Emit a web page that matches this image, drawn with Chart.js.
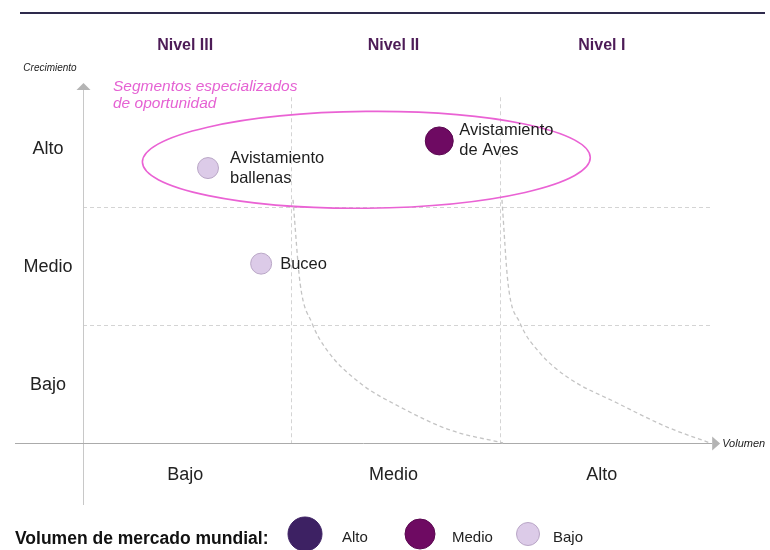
<!DOCTYPE html>
<html><head><meta charset="utf-8">
<script src="https://cdn.jsdelivr.net/npm/chart.js@4.4.1/dist/chart.umd.min.js"></script>
<style>html,body{margin:0;padding:0;background:#fff;}canvas{display:block;}</style>
</head><body>
<canvas id="c" width="770" height="550"></canvas>
<script>
// ---- data ----
const volumeCategories = ['Bajo', 'Medio', 'Alto'];
const growthCategories = ['Bajo', 'Medio', 'Alto'];
const levelLabels = ['Nivel III', 'Nivel II', 'Nivel I'];
const segmentNames = [['Avistamiento', 'ballenas'], ['Avistamiento', 'de Aves'], ['Buceo']];
const segmentVolume = [0.60, 1.71, 0.855];
const segmentGrowth = [2.33, 2.56, 1.52];
const segmentMarket = ['Bajo', 'Medio', 'Bajo'];
const marketLevels = ['Alto', 'Medio', 'Bajo'];
const curve1X = [1.008, 1.042, 1.099, 1.171, 1.33, 1.522, 1.762, 2.016];
const curve1Y = [2.06, 1.355, 1.016, 0.787, 0.508, 0.305, 0.11, 0];
const curve2X = [2.011, 2.04, 2.098, 2.194, 2.324, 2.564, 2.804, 3.01];
const curve2Y = [2.06, 1.355, 1.016, 0.762, 0.559, 0.339, 0.135, 0];
const opportunityTitle = ['Segmentos especializados', 'de oportunidad'];
const opportunityCenter = [1.36, 2.40];
const opportunityRadii = [1.075, 0.41];
const legendTitle = 'Volumen de mercado mundial:';
const axisTitles = ['Volumen', 'Crecimiento'];

// ---- styles ----
const marketColor = { 'Alto': '#3d2163', 'Medio': '#6e0a62', 'Bajo': '#dccbe8' };
const marketBorder = { 'Alto': '#3d2163', 'Medio': '#5a0850', 'Bajo': '#b9a6c6' };
const marketRadius = { 'Alto': 17, 'Medio': 14, 'Bajo': 10.5 };
const FONT = "'Liberation Sans', Arial, sans-serif";

const toPts = (xs, ys) => xs.map((x, i) => ({ x, y: ys[i] }));

const decor = {
  id: 'decor',
  beforeDatasetsDraw(chart) {
    const { ctx, scales: { x, y } } = chart;
    ctx.save();
    // dashed grid
    ctx.strokeStyle = '#d4d4d4';
    ctx.lineWidth = 1;
    ctx.setLineDash([4, 3]);
    [1, 2].forEach(v => {
      ctx.beginPath();
      ctx.moveTo(x.getPixelForValue(0), Math.round(y.getPixelForValue(v)) + 0.5);
      ctx.lineTo(x.getPixelForValue(3.02), Math.round(y.getPixelForValue(v)) + 0.5);
      ctx.stroke();
      ctx.beginPath();
      ctx.moveTo(Math.round(x.getPixelForValue(v)) + 0.5, y.getPixelForValue(2.93));
      ctx.lineTo(Math.round(x.getPixelForValue(v)) + 0.5, y.getPixelForValue(0));
      ctx.stroke();
    });
    ctx.setLineDash([]);
    // y axis
    const x0 = Math.round(x.getPixelForValue(0)) + 0.5;
    const y0 = Math.round(y.getPixelForValue(0)) + 0.5;
    ctx.strokeStyle = '#c8c8c8';
    ctx.beginPath();
    ctx.moveTo(x0, y.getPixelForValue(3.0));
    ctx.lineTo(x0, 505);
    ctx.stroke();
    ctx.fillStyle = '#b4b4b4';
    const yt = y.getPixelForValue(3.0);
    ctx.beginPath();
    ctx.moveTo(x0, yt - 6); ctx.lineTo(x0 + 7, yt + 1); ctx.lineTo(x0 - 7, yt + 1); ctx.closePath(); ctx.fill();
    // x axis
    ctx.strokeStyle = '#ababab';
    const xe = x.getPixelForValue(3.02);
    ctx.beginPath();
    ctx.moveTo(15, y0);
    ctx.lineTo(xe, y0);
    ctx.stroke();
    ctx.beginPath();
    ctx.moveTo(xe + 8, y0); ctx.lineTo(xe, y0 - 7); ctx.lineTo(xe, y0 + 7); ctx.closePath(); ctx.fill();
    // opportunity ellipse
    const cx = x.getPixelForValue(opportunityCenter[0]);
    const cy = y.getPixelForValue(opportunityCenter[1]);
    const rx = x.getPixelForValue(opportunityCenter[0] + opportunityRadii[0]) - cx;
    const ry = cy - y.getPixelForValue(opportunityCenter[1] + opportunityRadii[1]);
    ctx.strokeStyle = '#ea62d4';
    ctx.lineWidth = 1.6;
    ctx.beginPath();
    ctx.ellipse(cx, cy, rx, ry, -0.01, 0, Math.PI * 2);
    ctx.stroke();
    ctx.restore();
  },
  afterDraw(chart) {
    const { ctx, scales: { x, y } } = chart;
    ctx.save();
    // top rule
    ctx.strokeStyle = '#2e2a4c';
    ctx.lineWidth = 2;
    ctx.beginPath(); ctx.moveTo(20, 13); ctx.lineTo(765, 13); ctx.stroke();
    // level labels
    ctx.fillStyle = '#4d1c57';
    ctx.font = 'bold 16px ' + FONT;
    ctx.textAlign = 'center';
    ctx.textBaseline = 'middle';
    levelLabels.forEach((t, i) => ctx.fillText(t, x.getPixelForValue(i + 0.5) - 2, 46));
    // category labels
    ctx.fillStyle = '#222';
    ctx.font = '18px ' + FONT;
    volumeCategories.forEach((t, i) => ctx.fillText(t, x.getPixelForValue(i + 0.5) - 2, 475));
    growthCategories.forEach((t, i) => ctx.fillText(t, 48, y.getPixelForValue(i + 0.5) + 1));
    // axis titles
    ctx.font = 'italic 11px ' + FONT;
    ctx.textAlign = 'left';
    ctx.fillText(axisTitles[0], x.getPixelForValue(3.02) + 10, y.getPixelForValue(0) + 1);
    ctx.font = 'italic 10px ' + FONT;
    ctx.textAlign = 'center';
    ctx.fillText(axisTitles[1], 50, 68);
    // opportunity title
    ctx.fillStyle = '#e562d3';
    ctx.font = 'italic 15.5px ' + FONT;
    ctx.textAlign = 'left';
    opportunityTitle.forEach((t, i) => ctx.fillText(t, 113, 87 + i * 17));
    // segment labels
    ctx.fillStyle = '#1e1e1e';
    ctx.font = '16.5px ' + FONT;
    const offs = [[22, -10], [20, -10], [19, 1]];
    segmentNames.forEach((lines, i) => {
      const px = x.getPixelForValue(segmentVolume[i]);
      const py = y.getPixelForValue(segmentGrowth[i]);
      lines.forEach((t, j) => ctx.fillText(t, px + offs[i][0], py + offs[i][1] + j * 20));
    });
    // legend
    ctx.fillStyle = '#111';
    ctx.font = 'bold 17.5px ' + FONT;
    ctx.fillText(legendTitle, 15, 539);
    const lx = [305, 420, 528];
    const tx = [342, 452, 553];
    marketLevels.forEach((m, i) => {
      ctx.beginPath();
      ctx.arc(lx[i], 534, marketRadius[m] + (m === 'Alto' ? 0 : 1), 0, Math.PI * 2);
      ctx.fillStyle = marketColor[m];
      ctx.fill();
      ctx.lineWidth = 1;
      ctx.strokeStyle = marketBorder[m];
      ctx.stroke();
      ctx.fillStyle = '#222';
      ctx.font = '15px ' + FONT;
      ctx.fillText(m, tx[i], 538);
    });
    ctx.restore();
  }
};

new Chart(document.getElementById('c'), {
  type: 'scatter',
  data: {
    datasets: [
      {
        type: 'line', data: toPts(curve1X, curve1Y), borderColor: '#c4c4c4', borderWidth: 1.3,
        borderDash: [4, 3], pointRadius: 0, cubicInterpolationMode: 'monotone', fill: false, clip: false, order: 2
      },
      {
        type: 'line', data: toPts(curve2X, curve2Y), borderColor: '#c4c4c4', borderWidth: 1.3,
        borderDash: [4, 3], pointRadius: 0, cubicInterpolationMode: 'monotone', fill: false, clip: false, order: 2
      },
      {
        data: toPts(segmentVolume, segmentGrowth),
        pointRadius: segmentMarket.map(m => marketRadius[m]),
        pointHoverRadius: segmentMarket.map(m => marketRadius[m]),
        backgroundColor: segmentMarket.map(m => marketColor[m]),
        borderColor: segmentMarket.map(m => marketBorder[m]),
        borderWidth: 1, clip: false, order: 1
      }
    ]
  },
  options: {
    responsive: false,
    animation: false,
    devicePixelRatio: 1,
    layout: { padding: { left: 83, right: 62, top: 89, bottom: 107 } },
    scales: {
      x: { type: 'linear', min: 0, max: 3, display: false },
      y: { type: 'linear', min: 0, max: 3, display: false }
    },
    plugins: { legend: { display: false }, tooltip: { enabled: false } }
  },
  plugins: [decor]
});
</script>
</body></html>
